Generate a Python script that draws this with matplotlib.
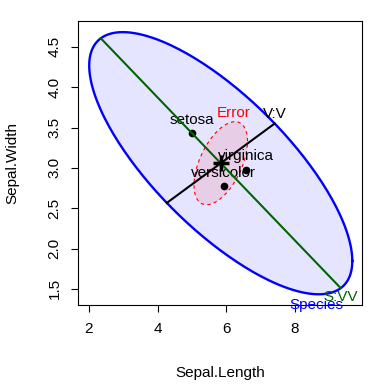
import numpy as np
import matplotlib
matplotlib.use("Agg")
import matplotlib.pyplot as plt

plt.rcParams['font.family'] = ['Liberation Sans', 'DejaVu Sans']

# iris group means (Sepal.Length, Sepal.Width)
groups = ["setosa", "versicolor", "virginica"]
sepal_length = [5.006, 5.936, 6.588]
sepal_width = [3.428, 2.770, 2.974]
n_per_group = 50

# error SSP matrix and model settings
E_ssp = np.array([[38.9562, 13.63], [13.63, 16.962]])
dfe = 147
level = 0.68
h_scale = 9.87   # lambda.crit * dfe

contrast_names = ["V:V", "S:VV"]
contrast_weights = [[0, 1, -1], [2, -1, -1]]
contrast_colors = ["black", "darkgreen"]

xlim = (1.69, 9.97)
ylim = (1.30, 4.82)

means = np.column_stack([sepal_length, sepal_width])
center = means.mean(axis=0)
dev = means - center
H_ssp = n_per_group * dev.T @ dev

qf = (dfe / 2.0) * ((1 - level) ** (-2.0 / dfe) - 1)
radius = np.sqrt(2 * qf)

theta = np.linspace(0, 2 * np.pi, 300)
circle = np.column_stack([np.cos(theta), np.sin(theta)])


def ellipse(S):
    L = np.linalg.cholesky(S)
    return center + radius * circle @ L.T


Es = E_ssp / dfe
Hs = H_ssp / h_scale
e_pts = ellipse(Es)
h_pts = ellipse(Hs)

fig = plt.figure(figsize=(3.84, 3.84), dpi=100)
ax = fig.add_axes([78.3 / 384, 1 - 305 / 384, 284 / 384, 284 / 384])

ax.fill(h_pts[:, 0], h_pts[:, 1], color=(0, 0, 1, 0.1), lw=0, zorder=1)
ax.fill(e_pts[:, 0], e_pts[:, 1], color=(1, 0, 0, 0.1), lw=0, zorder=2)
ax.plot(e_pts[:, 0], e_pts[:, 1], color='red', lw=0.8, ls=(0, (3, 3)), zorder=3)
ax.plot(h_pts[:, 0], h_pts[:, 1], color='blue', lw=1.7, zorder=3)

# labels on ellipses
top_e = center + radius * np.array([Es[0, 1], Es[1, 1]]) / np.sqrt(Es[1, 1])
ax.annotate("Error", top_e, xytext=(-1, 6), textcoords='offset points',
            ha='center', va='center', color='red', fontsize=11, zorder=4)
bot_h = center - radius * np.array([Hs[0, 1], Hs[1, 1]]) / np.sqrt(Hs[1, 1])
ax.annotate("Species", bot_h, xytext=(-2, -8), textcoords='offset points',
            ha='center', va='center', color='blue', fontsize=11, zorder=4)

# group means
ax.plot(sepal_length, sepal_width, 'o', color='black', ms=4.5, zorder=5)
for g, x, y in zip(groups, sepal_length, sepal_width):
    ax.annotate(g, (x, y), xytext=(0, 9.7), textcoords='offset points',
                ha='center', va='center', fontsize=11, zorder=4)

# rank-1 contrasts drawn as lines
for name, w, col, dy in zip(contrast_names, contrast_weights, contrast_colors, [6.5, -6.5]):
    w = np.array(w, dtype=float)
    d = w @ means
    half = radius * d / np.sqrt(h_scale * (w @ w) / n_per_group)
    ends = np.array([center - half, center + half])
    ax.plot(ends[:, 0], ends[:, 1], color=col, lw=1.5, zorder=6)
    tip = ends[np.argmax(ends[:, 0])]
    ax.annotate(name, tip, xytext=(0, dy), textcoords='offset points',
                ha='center', va='center', color=col, fontsize=11, zorder=6)

ax.plot([center[0]], [center[1]], marker='+', color='black', ms=11, mew=2.5, zorder=7)

ax.set_xlim(xlim)
ax.set_ylim(ylim)
ax.set_xticks([2, 4, 6, 8])
ax.set_yticks([1.5, 2.0, 2.5, 3.0, 3.5, 4.0, 4.5])
ax.set_yticklabels(["1.5", "2.0", "2.5", "3.0", "3.5", "4.0", "4.5"], rotation=90, va='center')
ax.tick_params(direction='out', length=5, width=0.8, labelsize=11, pad=7)
for s in ax.spines.values():
    s.set_linewidth(0.8)

ax.set_xlabel("Sepal.Length", fontsize=11, va='center')
ax.set_ylabel("Sepal.Width", fontsize=11, va='center')
ax.xaxis.set_label_coords(0.5, -68 / 284)
ax.yaxis.set_label_coords(-66 / 284, 0.5)

fig.savefig("out.png", dpi=100)
